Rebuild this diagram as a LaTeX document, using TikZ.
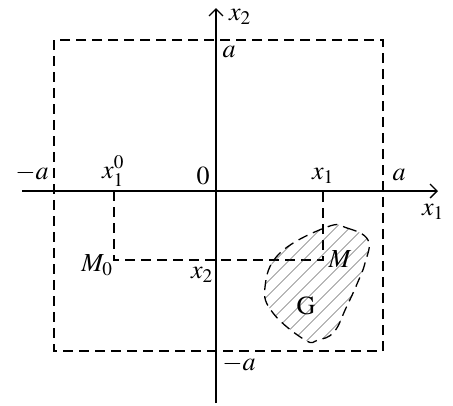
\documentclass[tikz,border=0pt]{standalone}
\usepackage{mathptmx}
\usetikzlibrary{arrows.meta, patterns.meta}

\begin{document}
\begin{tikzpicture}[
    x=1pt, y=-1pt,
    axis/.style={line width=1.3pt, -{Straight Barb[length=7pt, width=14pt]}},
    guide/.style={line width=1.3pt, dash pattern=on 10pt off 6pt},
    region/.style={
        line width=1.3pt,
        dash pattern=on 10pt off 6pt,
        pattern={Lines[angle=45, distance=10.5pt, line width=0.6pt]},
        pattern color=black!80
    },
    lbl/.style={inner sep=0pt, font=\fontsize{26}{30}\selectfont}
]
\useasboundingbox (0,0) rectangle (453,405);

% axes
\coordinate (O) at (216,191);
\coordinate (xstart) at (22,191);
\coordinate (xend) at (438,191);
\coordinate (ystart) at (216,403);
\coordinate (yend) at (216,8);
\draw[axis] (xstart) -- (xend);
\draw[axis] (ystart) -- (yend);

% square of side 2a
\coordinate (sqtl) at (54,40);
\coordinate (sqbr) at (383,351);
\draw[guide] (sqtl) rectangle (sqbr);

% points M0 and M
\coordinate (xzero) at (114,191);
\coordinate (Mzero) at (114,260);
\coordinate (xone) at (323,191);
\coordinate (Mpt) at (323,260);
\draw[guide] (xzero) -- (Mzero) -- (Mpt) -- (xone);

% region G
\draw[region] plot[smooth cycle, tension=0.7] coordinates {
    (327,227) (347,228) (368,240) (365,263) (357,284) (346,308)
    (334,332) (318,340) (305,340) (273,313) (265,287) (280,253)};

% labels
\node[lbl] (lminusa) at (32,173) {$-a$};
\node[lbl] (lxzero) at (113,171) {$x_1^0$};
\node[lbl] (lzero) at (203,176) {$0$};
\node[lbl] (lxone) at (323,176) {$x_1$};
\node[lbl] (lplusa) at (399,175) {$a$};
\node[lbl] (laxisx) at (433,212) {$x_1$};
\node[lbl] (laxisy) at (240,17) {$x_2$};
\node[lbl] (ltopa) at (229,52) {$a$};
\node[lbl] (lMzero) at (97,265) {$M_0$};
\node[lbl] (lxtwo) at (202,275) {$x_2$};
\node[lbl] (lM) at (340,259) {$M$};
\node[lbl] (lG) at (306,306) {$\mathrm{G}$};
\node[lbl] (lbota) at (239,364) {$-a$};

\end{tikzpicture}
\end{document}
